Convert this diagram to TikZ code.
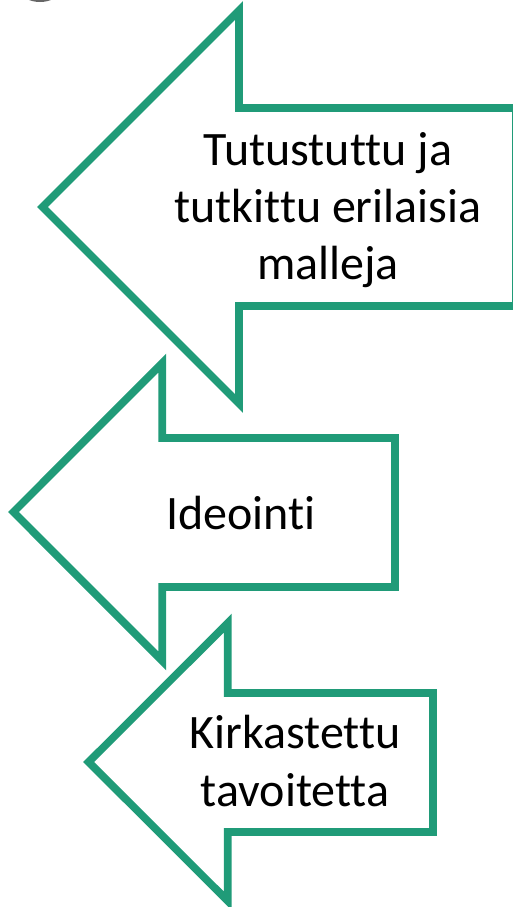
\documentclass[tikz,border=0pt]{standalone}
\usepackage{fontspec}
\setmainfont[Ligatures={NoCommon}]{Carlito}
\definecolor{arrowgreen}{RGB}{32,155,120}
\tikzset{
  arrowline/.style={draw=arrowgreen, line width=5.8pt, line join=miter, fill=white},
  arrowtext/.style={inner sep=0.75pt, align=center, font=\fontsize{36}{43}\selectfont}
}
\begin{document}
\begin{tikzpicture}[x=0.75pt,y=0.75pt,yscale=-1,xscale=1]
\useasboundingbox (0,0) rectangle (513,907);
\begin{scope}
\clip (0,0) rectangle (513,907);
% cut-off shape in the corner
\fill [black!75, opacity=0.8] (40,-10.5) ellipse (20 and 12.5);
% arrows
\draw [arrowline] (42.5,207) -- (239,10.5) -- (239,108) -- (516,108) -- (516,306) -- (239,306) -- (239,403.5) -- cycle;
\draw [arrowline] (13.5,512) -- (162.3,363) -- (162.3,438) -- (395,438) -- (395,587) -- (162.3,587) -- (162.3,661) -- cycle;
\draw [arrowline] (88.7,762) -- (227.8,623) -- (227.8,693) -- (433,693) -- (433,832) -- (227.8,832) -- (227.8,901) -- cycle;
\end{scope}
% texts
\node (tutustuttu) [arrowtext] at (328,210) {Tutustuttu ja\\tutkittu erilaisia\\malleja};
\node (ideointi) [arrowtext, anchor=base] at (241,529) {Ideointi};
\node (kirkastettu) [arrowtext] at (295,761) {Kirkastettu\\tavoitetta};
\end{tikzpicture}
\end{document}
